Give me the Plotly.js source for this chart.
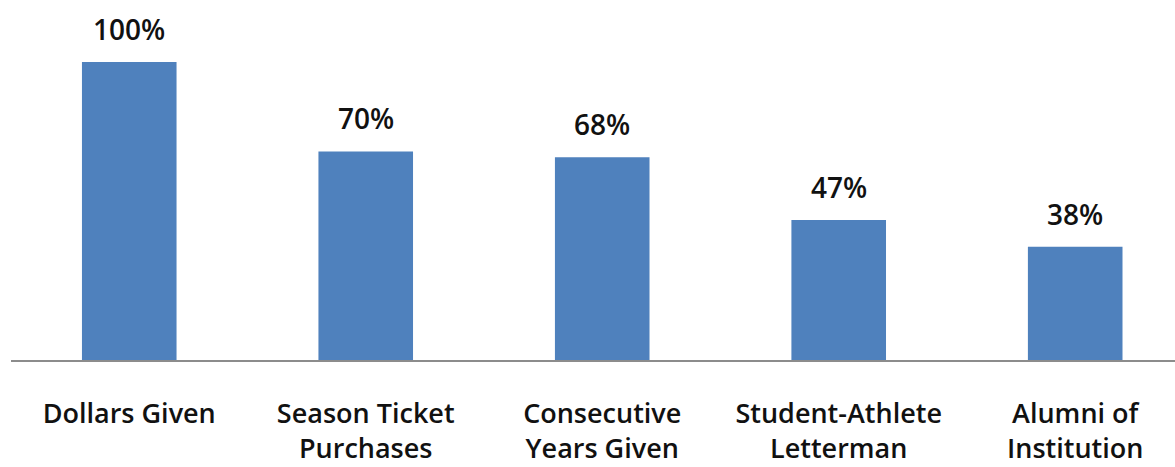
<!DOCTYPE html>
<html>
<head>
<meta charset="utf-8">
<script src="https://cdn.plot.ly/plotly-3.0.1.min.js"></script>
<style>html,body{margin:0;padding:0;background:#fff;}#chart{width:1175px;height:467px;}</style>
</head>
<body>
<div id="chart"></div>
<script>
const categories = ["Dollars Given", "Season Ticket<br>Purchases", "Consecutive<br>Years Given", "Student-Athlete<br>Letterman", "Alumni of<br>Institution"];
const values = [100, 70, 68, 47, 38];
const valueLabels = values.map(v => v + "%");
const fontFam = "'Open Sans', Lato, sans-serif";

const trace = {
  type: "bar",
  x: categories,
  y: values,
  width: 0.4,
  marker: {color: "#4F81BD", line: {width: 0}},
  hoverinfo: "skip"
};

const annotations = categories.map((c, i) => ({
  x: c, y: values[i], xref: "x", yref: "y",
  text: valueLabels[i], showarrow: false,
  yanchor: "bottom", yshift: 12,
  font: {family: fontFam, size: 28, color: "#111", weight: 600}
}));

const layout = {
  width: 1175, height: 467,
  margin: {l: 11, r: 0, t: 0, b: 107, pad: 0},
  paper_bgcolor: "#fff", plot_bgcolor: "#fff",
  showlegend: false,
  xaxis: {
    type: "category",
    range: [-0.5, 4.422],
    showline: true, linecolor: "#8c8c8c", linewidth: 1.5,
    showgrid: false, zeroline: false, ticks: "",
    ticklabelstandoff: 29,
    tickfont: {family: fontFam, size: 27, color: "#111", weight: 600},
    fixedrange: true
  },
  yaxis: {
    range: [0, 120.8],
    visible: false, showgrid: false, zeroline: false, fixedrange: true
  },
  annotations: annotations
};

Plotly.newPlot("chart", [trace], layout, {staticPlot: true});
</script>
</body>
</html>
